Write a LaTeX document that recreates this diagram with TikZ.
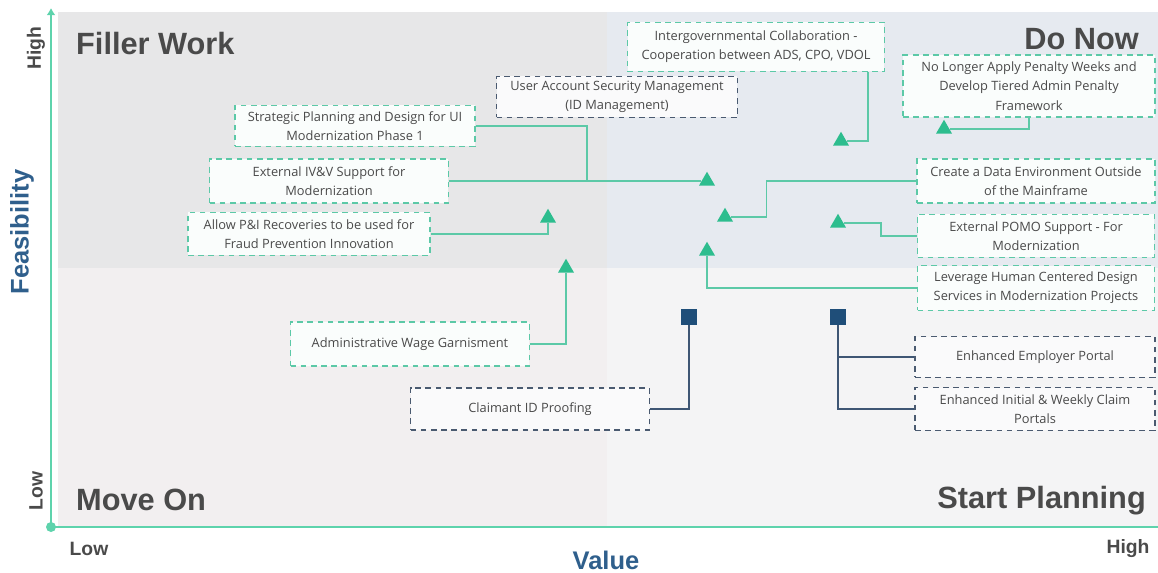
\documentclass[tikz,border=0pt]{standalone}
\usepackage{fontspec}
\setmainfont{Open Sans}
\newfontfamily\headfont{Liberation Sans}
\usetikzlibrary{shapes.geometric, arrows.meta, calc}
\definecolor{mark-teal}{HTML}{2DBD8E}
\definecolor{line-teal}{HTML}{5CC9A7}
\definecolor{axis-teal}{HTML}{5ED3AC}
\definecolor{mark-navy}{HTML}{1F4E79}
\definecolor{line-navy}{HTML}{3E5674}
\definecolor{box-navy}{HTML}{4A5A70}
\definecolor{quad-tl}{HTML}{E7E7E8}
\definecolor{quad-tr}{HTML}{E6EAF0}
\definecolor{quad-bl}{HTML}{F2EFF0}
\definecolor{quad-br}{HTML}{F4F4F5}
\definecolor{title-blue}{HTML}{2F5F8C}
\definecolor{text-grey}{HTML}{4A4A4A}

\begin{document}
\begin{tikzpicture}[x=0.02cm, y=-0.02cm,
    item/.style={rectangle, draw=#1, fill=white!97!#1, dash pattern=on 3.2pt off 2.6pt, line width=0.7pt, minimum width=4.78cm, minimum height=0.86cm, align=center, font=\fontsize{7.3}{11}\selectfont, text=text-grey, inner sep=2pt},
    tri/.style={regular polygon, regular polygon sides=3, fill=mark-teal, minimum size=0.37cm, inner sep=0pt},
    sq/.style={rectangle, fill=mark-navy, minimum size=0.32cm, inner sep=0pt},
    link/.style={line-teal, line width=1pt},
    navylink/.style={line-navy, line width=1pt},
    quadlabel/.style={font=\headfont\bfseries\fontsize{17.5}{20}\selectfont, text=text-grey},
    scalelabel/.style={font=\headfont\bfseries\fontsize{11}{13}\selectfont, text=text-grey},
    axisname/.style={font=\headfont\bfseries\fontsize{14.5}{17}\selectfont, text=title-blue}]
    \useasboundingbox (0,0) rectangle (1158,573);

    % Quadrant backgrounds
    \fill[quad-tl] (58,12) rectangle (607,268);
    \fill[quad-tr] (607,12) rectangle (1158,268);
    \fill[quad-bl] (58,268) rectangle (607,526);
    \fill[quad-br] (607,268) rectangle (1158,526);

    % Axes
    \coordinate (origin) at (51,527);
    \coordinate (ytop) at (51,8);
    \coordinate (xend) at (1158,527);
    \draw[axis-teal, line width=1.7pt, -{Latex[length=4pt,width=5pt]}] (origin) -- (ytop);
    \draw[axis-teal, line width=1.7pt] (origin) -- (xend);
    \fill[axis-teal] (origin) circle[radius=0.1cm];

    % Quadrant names
    \node[quadlabel, anchor=base west] (filler) at (70,55) {Filler Work};
    \node[quadlabel, anchor=base east] (donow) at (1145,50) {Do Now};
    \node[quadlabel, anchor=base west] (moveon) at (70,510) {Move On};
    \node[quadlabel, anchor=base east] (startplan) at (1152,508) {Start Planning};

    % Axis labels
    \node[scalelabel, rotate=90] (yhigh) at (36,48) {High};
    \node[scalelabel, rotate=90] (ylow) at (36,491) {Low};
    \node[axisname, rotate=90] (feas) at (22,232) {Feasibility};
    \node[scalelabel] (xlow) at (89,549) {Low};
    \node[scalelabel] (xhigh) at (1128,549) {High};
    \node[axisname] (value) at (606,560) {Value};

    % Initiative boxes
    \node[item=line-teal, minimum width=5.14cm, minimum height=0.98cm] (inter) at (756,47) {Intergovernmental Collaboration -\\Cooperation between ADS, CPO, VDOL};
    \node[item=box-navy, minimum width=4.82cm, minimum height=0.82cm] (user) at (617,97) {User Account Security Management\\(ID Management)};
    \node[item=line-teal, minimum width=4.8cm, minimum height=0.82cm] (strat) at (355,126) {Strategic Planning and Design for UI\\Modernization Phase 1};
    \node[item=line-teal, minimum height=0.88cm] (ivv) at (329,181) {External IV\&V Support for\\Modernization};
    \node[item=line-teal, minimum width=4.84cm] (allow) at (309,234) {Allow P\&I Recoveries to be used for\\Fraud Prevention Innovation};
    \node[item=line-teal, minimum height=0.88cm] (admin) at (410,344) {Administrative Wage Garnisment};
    \node[item=box-navy, minimum height=0.84cm] (claim) at (530,409) {Claimant ID Proofing};
    \node[item=line-teal, minimum width=5.04cm, minimum height=1.24cm] (nolong) at (1029,86) {No Longer Apply Penalty Weeks and\\Develop Tiered Admin Penalty\\Framework};
    \node[item=line-teal, minimum width=4.76cm, minimum height=0.88cm] (data) at (1036,181) {Create a Data Environment Outside\\of the Mainframe};
    \node[item=line-teal, minimum width=4.74cm] (pomo) at (1036,236) {External POMO Support - For\\Modernization};
    \node[item=line-teal, minimum width=4.74cm, minimum height=0.9cm] (lev) at (1036,288) {Leverage Human Centered Design\\Services in Modernization Projects};
    \node[item=box-navy, minimum width=4.8cm, minimum height=0.82cm] (emp) at (1035,357) {Enhanced Employer Portal};
    \node[item=box-navy, minimum width=4.8cm] (init) at (1035,409) {Enhanced Initial \& Weekly Claim\\Portals};

    % Markers
    \node[tri] (tri1) at (841,141) {};
    \node[tri] (tri2) at (944,129) {};
    \node[tri] (tri3) at (707,181) {};
    \node[tri] (tri4) at (725,217) {};
    \node[tri] (tri5) at (838,223) {};
    \node[tri] (tri6) at (707,251) {};
    \node[tri] (tri7) at (548,218) {};
    \node[tri] (tri8) at (566,268) {};
    \node[sq] (sq1) at (689,317) {};
    \node[sq] (sq2) at (838,317) {};

    % Connectors from boxes to markers
    \coordinate (join) at (587,181);
    \draw[link] (strat.east) -| (join);
    \draw[link] (ivv.east) -- (tri3);
    \draw[link] (inter.south east) ++(-17,0) |- (tri1);
    \draw[link] (nolong.south) |- (tri2);
    \draw[link] (data.west) -- ++(-150,0) |- (tri4);
    \draw[link] (pomo.west) -- ++(-36,0) |- (tri5);
    \draw[link] (lev.west) -| (tri6);
    \draw[link] (allow.east) -| (tri7);
    \draw[link] (admin.east) -| (tri8);
    \draw[navylink] (claim.east) -| (sq1);
    \draw[navylink] (sq2) |- (emp.west);
    \draw[navylink] (sq2) |- (init.west);
\end{tikzpicture}
\end{document}
